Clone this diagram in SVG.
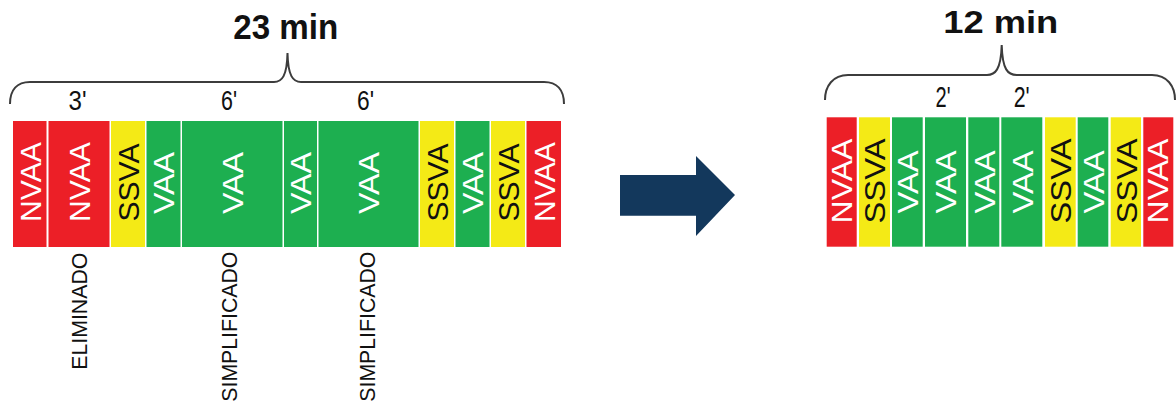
<svg xmlns="http://www.w3.org/2000/svg" width="1176" height="407" viewBox="0 0 1176 407">
<style>
text{font-family:"Liberation Sans",Arial,sans-serif;}
.r{fill:#EC1F27;}
.y{fill:#F4EA16;}
.g{fill:#1DAF50;}
.tw{fill:#FFFFFF;font-size:30px;}
.tb{fill:#111111;font-size:30px;}
.title{font-size:35px;font-weight:bold;fill:#111111;}
.lbl{font-size:28px;fill:#111111;}
.side{font-size:22px;fill:#111111;}
.brace{fill:none;stroke:#3C3C3C;stroke-width:2;}
</style>
<rect width="1176" height="407" fill="#FFFFFF"/>

<g id="left-title">
<text class="title" x="285.8" y="39.3" text-anchor="middle" textLength="105" lengthAdjust="spacingAndGlyphs">23 min</text>
</g>
<g id="left-brace">
<path class="brace" d="M10,104 C10,90 17,82 30,82 L274,82 C282,82 287,76 287.5,53 C288,76 293,82 301,82 L544,82 C557,82 564,90 564,104"/>
</g>
<g id="left-labels">
<text class="lbl" x="77.5" y="110" text-anchor="middle" textLength="18" lengthAdjust="spacingAndGlyphs">3'</text>
<text class="lbl" x="229" y="110" text-anchor="middle" textLength="16" lengthAdjust="spacingAndGlyphs">6'</text>
<text class="lbl" x="365.5" y="110" text-anchor="middle" textLength="17" lengthAdjust="spacingAndGlyphs">6'</text>
</g>

<g id="left-bar">
<g id="l1"><rect class="r" x="13" y="121" width="33.5" height="126"/><text class="tw" transform="translate(40.5,182) rotate(-90)" text-anchor="middle" textLength="80" lengthAdjust="spacingAndGlyphs">NVAA</text></g>
<g id="l2"><rect class="r" x="48.5" y="121" width="61" height="126"/><text class="tw" transform="translate(89.8,182) rotate(-90)" text-anchor="middle" textLength="80" lengthAdjust="spacingAndGlyphs">NVAA</text></g>
<g id="l3"><rect class="y" x="111" y="121" width="34" height="126"/><text class="tb" transform="translate(138.8,182.5) rotate(-90)" text-anchor="middle" textLength="78" lengthAdjust="spacingAndGlyphs">SSVA</text></g>
<g id="l4"><rect class="g" x="146.5" y="121" width="34" height="126"/><text class="tw" transform="translate(174.3,183) rotate(-90)" text-anchor="middle" textLength="62" lengthAdjust="spacingAndGlyphs">VAA</text></g>
<g id="l5"><rect class="g" x="182" y="121" width="100.5" height="126"/><text class="tw" transform="translate(243,183) rotate(-90)" text-anchor="middle" textLength="62" lengthAdjust="spacingAndGlyphs">VAA</text></g>
<g id="l6"><rect class="g" x="284" y="121" width="33" height="126"/><text class="tw" transform="translate(311.3,183) rotate(-90)" text-anchor="middle" textLength="62" lengthAdjust="spacingAndGlyphs">VAA</text></g>
<g id="l7"><rect class="g" x="318.5" y="121" width="100" height="126"/><text class="tw" transform="translate(379.3,183) rotate(-90)" text-anchor="middle" textLength="62" lengthAdjust="spacingAndGlyphs">VAA</text></g>
<g id="l8"><rect class="y" x="420" y="121" width="34" height="126"/><text class="tb" transform="translate(447.8,182.5) rotate(-90)" text-anchor="middle" textLength="78" lengthAdjust="spacingAndGlyphs">SSVA</text></g>
<g id="l9"><rect class="g" x="455.5" y="121" width="34" height="126"/><text class="tw" transform="translate(483.3,183) rotate(-90)" text-anchor="middle" textLength="62" lengthAdjust="spacingAndGlyphs">VAA</text></g>
<g id="l10"><rect class="y" x="491" y="121" width="34" height="126"/><text class="tb" transform="translate(518.8,182.5) rotate(-90)" text-anchor="middle" textLength="78" lengthAdjust="spacingAndGlyphs">SSVA</text></g>
<g id="l11"><rect class="r" x="526.5" y="121" width="34.5" height="126"/><text class="tw" transform="translate(554.5,182) rotate(-90)" text-anchor="middle" textLength="80" lengthAdjust="spacingAndGlyphs">NVAA</text></g>
</g>

<g id="left-notes">
<text class="side" transform="translate(86.5,252.7) rotate(-90)" text-anchor="end" textLength="117" lengthAdjust="spacingAndGlyphs">ELIMINADO</text>
<text class="side" transform="translate(236.5,251.7) rotate(-90)" text-anchor="end" textLength="150" lengthAdjust="spacingAndGlyphs">SIMPLIFICADO</text>
<text class="side" transform="translate(375,251.7) rotate(-90)" text-anchor="end" textLength="150" lengthAdjust="spacingAndGlyphs">SIMPLIFICADO</text>
</g>

<g id="connectors">
<path d="M620,175 L696,175 L696,156 L735,195 L696,236 L696,215.7 L620,215.7 Z" fill="#13385C"/>
</g>

<g id="right-title">
<text class="title" x="1000.8" y="33.3" text-anchor="middle" textLength="115" lengthAdjust="spacingAndGlyphs" style="font-size:31px">12 min</text>
</g>
<g id="right-brace">
<path class="brace" d="M825,100 C825,86 833,75 848,75 L987,75 C995,75 1001,70 1001.7,45 C1002.4,70 1008,75 1016.7,75 L1152,75 C1167,75 1175,86 1175,100"/>
</g>
<g id="right-labels">
<text class="lbl" x="943" y="106.5" text-anchor="middle" textLength="15" lengthAdjust="spacingAndGlyphs" style="font-size:30px">2'</text>
<text class="lbl" x="1021.7" y="106.5" text-anchor="middle" textLength="16" lengthAdjust="spacingAndGlyphs" style="font-size:30px">2'</text>
</g>

<g id="right-bar">
<g id="r1"><rect class="r" x="826.7" y="117.3" width="30" height="129.4"/><text class="tw" transform="translate(851.7,181) rotate(-90)" text-anchor="middle" textLength="85" lengthAdjust="spacingAndGlyphs">NVAA</text></g>
<g id="r2"><rect class="y" x="859" y="117.3" width="31" height="129.4"/><text class="tb" transform="translate(885,181) rotate(-90)" text-anchor="middle" textLength="85" lengthAdjust="spacingAndGlyphs">SSVA</text></g>
<g id="r3"><rect class="g" x="892" y="117.3" width="30.7" height="129.4"/><text class="tw" transform="translate(918,182) rotate(-90)" text-anchor="middle" textLength="63" lengthAdjust="spacingAndGlyphs">VAA</text></g>
<g id="r4"><rect class="g" x="925" y="117.3" width="41" height="129.4"/><text class="tw" transform="translate(956,182) rotate(-90)" text-anchor="middle" textLength="63" lengthAdjust="spacingAndGlyphs">VAA</text></g>
<g id="r5"><rect class="g" x="968.3" y="117.3" width="31" height="129.4"/><text class="tw" transform="translate(994.5,182) rotate(-90)" text-anchor="middle" textLength="63" lengthAdjust="spacingAndGlyphs">VAA</text></g>
<g id="r6"><rect class="g" x="1001.3" y="117.3" width="41" height="129.4"/><text class="tw" transform="translate(1032.5,182) rotate(-90)" text-anchor="middle" textLength="63" lengthAdjust="spacingAndGlyphs">VAA</text></g>
<g id="r7"><rect class="y" x="1045" y="117.3" width="30.7" height="129.4"/><text class="tb" transform="translate(1071,181) rotate(-90)" text-anchor="middle" textLength="85" lengthAdjust="spacingAndGlyphs">SSVA</text></g>
<g id="r8"><rect class="g" x="1077.7" y="117.3" width="30.6" height="129.4"/><text class="tw" transform="translate(1103.7,182) rotate(-90)" text-anchor="middle" textLength="63" lengthAdjust="spacingAndGlyphs">VAA</text></g>
<g id="r9"><rect class="y" x="1110.7" y="117.3" width="30.3" height="129.4"/><text class="tb" transform="translate(1136.5,181) rotate(-90)" text-anchor="middle" textLength="85" lengthAdjust="spacingAndGlyphs">SSVA</text></g>
<g id="r10"><rect class="r" x="1143.3" y="117.3" width="30" height="129.4"/><text class="tw" transform="translate(1168.3,181) rotate(-90)" text-anchor="middle" textLength="85" lengthAdjust="spacingAndGlyphs">NVAA</text></g>
</g>
</svg>
